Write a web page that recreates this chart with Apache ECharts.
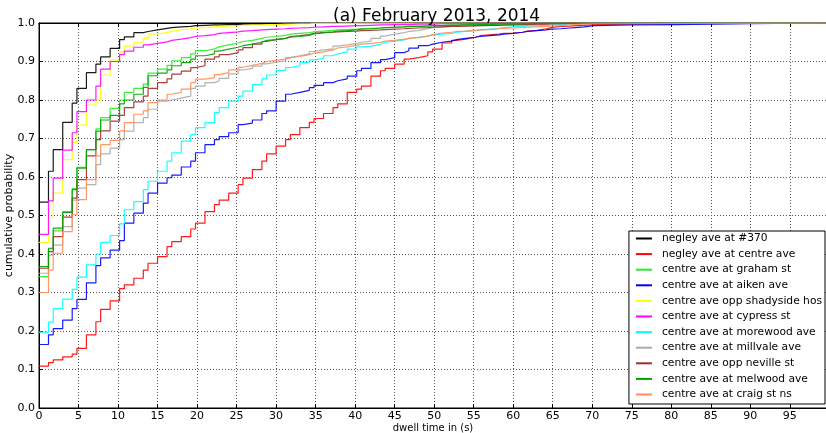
<!DOCTYPE html>
<html>
<head>
<meta charset="utf-8">
<script src="https://cdn.jsdelivr.net/npm/echarts@6/dist/echarts.min.js"></script>
<style>
  html, body { margin: 0; padding: 0; background: #fff; }
  #chart { width: 826px; height: 433px; }
</style>
</head>
<body>
<div id="chart"></div>
<script>
// step positions of the dwell-time CDFs (s)
const dwellTimes = [0, 1.2, 1.8, 3.0, 4.2, 4.8, 6.0, 7.2, 7.8, 9.0, 10.2, 10.8, 12.0, 13.2, 13.8, 15.0, 16.2, 16.8,
  18.0, 19.2, 19.8, 21.0, 22.2, 22.8, 24.0, 25.2, 25.8, 27.0, 28.2, 28.8, 30.0, 31.2, 31.8, 33.0, 34.2, 34.8,
  36.0, 37.2, 37.8, 39.0, 40.2, 40.8, 42.0, 43.2, 43.8, 45.0, 46.2, 46.8, 48.0, 49.2, 49.8, 51.0, 52.2, 52.8,
  54.0, 55.2, 55.8, 57.0, 58.2, 58.8, 60.0, 61.2, 61.8, 63.0, 64.2, 64.8, 66.0, 67.2, 67.8, 69.0, 70.2,
  75.0, 80.4, 90.0]

const stopNames = [
  'negley ave at #370',
  'negley ave at centre ave',
  'centre ave at graham st',
  'centre ave at aiken ave',
  'centre ave opp shadyside hos',
  'centre ave at cypress st',
  'centre ave at morewood ave',
  'centre ave at millvale ave',
  'centre ave opp neville st',
  'centre ave at melwood ave',
  'centre ave at craig st ns'
]

const negley370 = [0.535, 0.615, 0.671, 0.742, 0.792, 0.830, 0.871, 0.893, 0.912, 0.934, 0.957, 0.964, 0.975, 0.978,
  0.982, 0.986, 0.988, 0.990, 0.991, 0.993, 0.994, 0.995, 0.995, 0.996, 0.996, 0.997, 0.997, 0.997, 0.998, 0.998,
  0.998, 0.999, 0.999, 0.999, 1.0]
const negleyCentre = [0.109, 0.118, 0.125, 0.133, 0.14, 0.155, 0.19, 0.224, 0.256, 0.278, 0.31, 0.32, 0.337, 0.358,
  0.376, 0.393, 0.419, 0.432, 0.445, 0.465, 0.48, 0.51, 0.528, 0.54, 0.558, 0.58, 0.597, 0.619, 0.641, 0.66, 0.68,
  0.697, 0.71, 0.728, 0.742, 0.752, 0.765, 0.78, 0.79, 0.82, 0.828, 0.836, 0.862, 0.876, 0.882, 0.893, 0.906, 0.91,
  0.915, 0.925, 0.932, 0.948, 0.955, 0.958, 0.963, 0.967, 0.969, 0.971, 0.973, 0.974, 0.976, 0.979, 0.981, 0.985,
  0.988, 0.991, 0.992, 0.993, 0.994, 0.996, 0.997, 0.998, 0.999, 1.0]
const graham = [0.341, 0.413, 0.46, 0.51, 0.57, 0.625, 0.671, 0.725, 0.754, 0.778, 0.80, 0.82, 0.83, 0.841, 0.87,
  0.88, 0.89, 0.902, 0.91, 0.92, 0.928, 0.933, 0.938, 0.943, 0.948, 0.952, 0.955, 0.96, 0.963, 0.965, 0.968, 0.971,
  0.973, 0.975, 0.977, 0.979, 0.981, 0.982, 0.983, 0.984, 0.985, 0.986, 0.987, 0.988, 0.989, 0.99, 0.991, 0.992,
  0.993, 0.993, 0.994, 0.995, 0.995, 0.996, 0.996, 0.997, 0.997, 0.998, 0.998, 0.999, 0.999, 1.0]
const aiken = [0.165, 0.19, 0.206, 0.228, 0.258, 0.282, 0.325, 0.37, 0.39, 0.41, 0.435, 0.48, 0.506, 0.532, 0.558,
  0.584, 0.598, 0.605, 0.626, 0.641, 0.663, 0.684, 0.697, 0.705, 0.715, 0.736, 0.74, 0.748, 0.765, 0.772, 0.797,
  0.815, 0.82, 0.825, 0.832, 0.838, 0.845, 0.85, 0.855, 0.862, 0.876, 0.882, 0.897, 0.905, 0.91, 0.923, 0.928, 0.935,
  0.941, 0.945, 0.95, 0.953, 0.957, 0.96, 0.963, 0.965, 0.967, 0.969, 0.971, 0.973, 0.976, 0.978, 0.98, 0.982,
  0.984, 0.985, 0.987, 0.988, 0.99, 0.993, 0.995, 0.996, 0.998, 1.0]
const shadyside = [0.43, 0.495, 0.558, 0.645, 0.69, 0.735, 0.787, 0.80, 0.865, 0.904, 0.925, 0.94, 0.95, 0.96, 0.972,
  0.975, 0.979, 0.982, 0.985, 0.987, 0.988, 0.99, 0.991, 0.992, 0.993, 0.994, 0.995, 0.995, 0.996, 0.996, 0.997,
  0.997, 0.998, 0.998, 0.999, 0.999, 1.0]
const cypress = [0.451, 0.538, 0.597, 0.67, 0.715, 0.77, 0.80, 0.836, 0.88, 0.90, 0.918, 0.927, 0.937, 0.943, 0.947,
  0.951, 0.955, 0.958, 0.962, 0.965, 0.967, 0.97, 0.973, 0.975, 0.977, 0.979, 0.98, 0.982, 0.983, 0.984, 0.985,
  0.986, 0.987, 0.988, 0.989, 0.99, 0.991, 0.991, 0.992, 0.993, 0.993, 0.994, 0.995, 0.995, 0.996, 0.996, 0.996,
  0.997, 0.997, 0.997, 0.998, 0.998, 0.998, 0.998, 0.999, 0.999, 0.999, 0.999, 0.999, 1.0]
const morewood = [0.197, 0.223, 0.258, 0.283, 0.308, 0.34, 0.372, 0.40, 0.43, 0.448, 0.478, 0.515, 0.536, 0.567,
  0.589, 0.615, 0.641, 0.663, 0.693, 0.71, 0.728, 0.741, 0.767, 0.78, 0.797, 0.81, 0.823, 0.84, 0.855, 0.865, 0.877,
  0.884, 0.889, 0.897, 0.904, 0.908, 0.915, 0.92, 0.925, 0.932, 0.938, 0.94, 0.945, 0.95, 0.953, 0.956, 0.96, 0.963,
  0.966, 0.969, 0.971, 0.973, 0.976, 0.978, 0.98, 0.982, 0.984, 0.986, 0.988, 0.99, 0.991, 0.992, 0.993, 0.994,
  0.995, 0.996, 0.997, 0.998, 0.998, 0.999, 1.0]
const millvale = [0.35, 0.397, 0.423, 0.471, 0.54, 0.571, 0.58, 0.632, 0.66, 0.675, 0.697, 0.719, 0.741, 0.754,
  0.776, 0.797, 0.80, 0.805, 0.81, 0.83, 0.836, 0.845, 0.85, 0.856, 0.868, 0.878, 0.882, 0.888, 0.894, 0.898, 0.902,
  0.91, 0.915, 0.92, 0.926, 0.93, 0.933, 0.94, 0.943, 0.947, 0.95, 0.953, 0.96, 0.966, 0.971, 0.975, 0.978, 0.98,
  0.985, 0.988, 0.99, 0.991, 0.991, 0.992, 0.992, 0.993, 0.993, 0.994, 0.994, 0.995, 0.995, 0.996, 0.996, 0.997,
  0.997, 0.998, 0.998, 0.999, 0.999, 0.999, 1.0]
const neville = [0.363, 0.406, 0.445, 0.496, 0.545, 0.593, 0.655, 0.697, 0.72, 0.745, 0.76, 0.78, 0.795, 0.81, 0.83,
  0.845, 0.855, 0.867, 0.875, 0.884, 0.889, 0.906, 0.912, 0.918, 0.923, 0.93, 0.936, 0.945, 0.952, 0.957, 0.96,
  0.965, 0.967, 0.97, 0.973, 0.975, 0.976, 0.977, 0.978, 0.979, 0.98, 0.981, 0.982, 0.983, 0.984, 0.985, 0.986,
  0.987, 0.988, 0.989, 0.99, 0.991, 0.991, 0.992, 0.993, 0.993, 0.994, 0.994, 0.995, 0.995, 0.996, 0.996, 0.997,
  0.997, 0.998, 0.998, 0.999, 0.999, 1.0]
const melwood = [0.367, 0.415, 0.467, 0.508, 0.567, 0.623, 0.671, 0.719, 0.748, 0.76, 0.79, 0.80, 0.815, 0.833, 0.863,
  0.87, 0.878, 0.889, 0.897, 0.906, 0.915, 0.92, 0.927, 0.932, 0.937, 0.941, 0.945, 0.95, 0.955, 0.957, 0.96, 0.963,
  0.965, 0.968, 0.972, 0.975, 0.977, 0.979, 0.98, 0.982, 0.984, 0.985, 0.987, 0.988, 0.989, 0.99, 0.991, 0.991,
  0.992, 0.993, 0.993, 0.994, 0.994, 0.995, 0.995, 0.996, 0.996, 0.997, 0.997, 0.997, 0.998, 0.998, 0.999, 0.999, 1.0]
const craig = [0.30, 0.358, 0.402, 0.458, 0.502, 0.541, 0.593, 0.655, 0.684, 0.695, 0.72, 0.741, 0.763, 0.772, 0.793,
  0.80, 0.815, 0.82, 0.828, 0.845, 0.854, 0.858, 0.866, 0.871, 0.878, 0.885, 0.89, 0.895, 0.90, 0.903, 0.906, 0.91,
  0.913, 0.918, 0.922, 0.925, 0.93, 0.935, 0.938, 0.942, 0.945, 0.947, 0.95, 0.953, 0.955, 0.958, 0.96, 0.962, 0.966,
  0.97, 0.974, 0.976, 0.978, 0.979, 0.981, 0.982, 0.983, 0.985, 0.986, 0.987, 0.988, 0.989, 0.99, 0.991, 0.992,
  0.993, 0.995, 0.996, 0.997, 0.998, 1.0]

const stopProbs = [negley370, negleyCentre, graham, aiken, shadyside, cypress, morewood, millvale, neville, melwood, craig]
const stopColors = ['#000000', '#ff0000', '#22ee22', '#0000ff', '#ffff00', '#ff00ff', '#00ffff', '#aaaaaa',
  '#a52a2a', '#00a000', '#ff8c55']

const X_MAX = 99.7
const FONT = 'DejaVu Sans'

var myChart = echarts.init(document.getElementById('chart'))

// build step series: hold last value until the end of the axis
const seriesList = stopNames.map((name, k) => {
  let probs = stopProbs[k]
  let data = probs.map((p, i) => [dwellTimes[i], p])
  data.push([X_MAX, probs[probs.length - 1]])
  return {
    name: name,
    type: 'line',
    step: 'end',
    data: data,
    showSymbol: false,
    symbol: 'none',
    color: stopColors[k],
    lineStyle: { width: 1.2, color: stopColors[k], opacity: 0.9 },
    xAxisIndex: 0,
    yAxisIndex: 0
  }
})

myChart.setOption({
  animation: false,
  backgroundColor: '#fff',
  title: {
    text: '(a) February 2013, 2014',
    left: 328,
    top: 3,
    textStyle: { fontFamily: FONT, fontSize: 17, fontWeight: 'normal', color: '#000' }
  },
  grid: {
    left: 39,
    right: -1,
    top: 23,
    bottom: 25,
    containLabel: false,
    outerBoundsMode: 'none',
    show: true,
    borderColor: '#000',
    borderWidth: 1,
    backgroundColor: 'transparent'
  },
  legend: {
    orient: 'vertical',
    right: 1,
    bottom: 29,
    data: stopNames,
    icon: 'rect',
    itemWidth: 16,
    itemHeight: 2,
    itemGap: 2.6,
    padding: [1, 3, 3, 7],
    backgroundColor: '#fff',
    borderColor: '#000',
    borderWidth: 1,
    borderRadius: 0,
    textStyle: { fontFamily: FONT, fontSize: 10.7, color: '#000', lineHeight: 13, padding: [0, 0, 0, 5] }
  },
  xAxis: [
    {
      type: 'value',
      min: 0,
      max: X_MAX,
      interval: 5,
      name: 'dwell time in (s)',
      nameLocation: 'middle',
      nameGap: 15,
      nameMoveOverlap: false,
      nameTextStyle: { fontFamily: FONT, fontSize: 10, color: '#000' },
      axisLine: { show: true, lineStyle: { color: '#000', width: 1 } },
      axisTick: { show: true, inside: true, length: 4, lineStyle: { color: '#000' } },
      axisLabel: { fontFamily: FONT, fontSize: 11, color: '#000', margin: 3, showMaxLabel: false },
      splitLine: { show: true, lineStyle: { type: [1, 2], color: '#555', width: 1 } }
    },
    {
      type: 'value',
      position: 'top',
      min: 0,
      max: X_MAX,
      interval: 5,
      axisLine: { show: true, lineStyle: { color: '#000', width: 1 } },
      axisTick: { show: true, inside: true, length: 4, lineStyle: { color: '#000' } },
      axisLabel: { show: false },
      splitLine: { show: false }
    }
  ],
  yAxis: {
    type: 'value',
    min: 0,
    max: 1,
    interval: 0.1,
    name: 'cumulative probability',
    nameLocation: 'middle',
    nameGap: 24,
    nameMoveOverlap: false,
    nameTextStyle: { fontFamily: FONT, fontSize: 11, color: '#000' },
    axisLine: { show: true, lineStyle: { color: '#000', width: 1 } },
    axisTick: { show: true, inside: true, length: 4, lineStyle: { color: '#000' } },
    axisLabel: {
      fontFamily: FONT, fontSize: 11, color: '#000', margin: 4,
      formatter: (v) => v.toFixed(1)
    },
    splitLine: { show: true, lineStyle: { type: [1, 2], color: '#555', width: 1 } }
  },
  series: seriesList
})
</script>
</body>
</html>
